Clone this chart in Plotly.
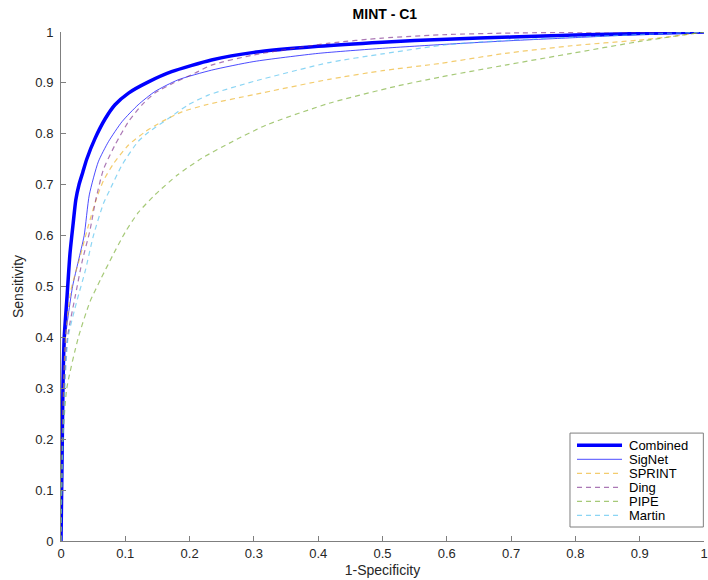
import plotly.graph_objects as go

# ROC curves (false positive rate = 1-Specificity, true positive rate = Sensitivity)
combined_fpr = [0, 0.001, 0.002, 0.003, 0.005, 0.009, 0.014, 0.019, 0.023, 0.028, 0.034, 0.040, 0.053,
                0.069, 0.084, 0.105, 0.136, 0.172, 0.234, 0.3, 0.4, 0.5, 0.6, 0.7, 0.8, 0.9, 1]
combined_tpr = [0, 0.1, 0.2, 0.3, 0.4, 0.473, 0.565, 0.625, 0.67, 0.70, 0.725, 0.75, 0.791,
                0.83, 0.857, 0.88, 0.902, 0.922, 0.945, 0.96, 0.972, 0.98, 0.986, 0.99, 0.994, 0.997, 1]

signet_fpr = [0, 0.001, 0.002, 0.003, 0.007, 0.018, 0.027, 0.036, 0.044, 0.058, 0.074, 0.095,
              0.120, 0.146, 0.182, 0.234, 0.3, 0.4, 0.5, 0.6, 0.7, 0.8, 0.9, 1]
signet_tpr = [0, 0.1, 0.2, 0.3, 0.4, 0.5, 0.55, 0.6, 0.68, 0.745, 0.785, 0.824,
              0.857, 0.883, 0.906, 0.925, 0.942, 0.958, 0.968, 0.976, 0.983, 0.989, 0.995, 1]

sprint_fpr = [0, 0.001, 0.002, 0.004, 0.007, 0.015, 0.030, 0.042, 0.055, 0.066, 0.082, 0.105,
              0.131, 0.157, 0.188, 0.229, 0.3, 0.417, 0.5, 0.588, 0.691, 0.794, 0.898, 0.949, 1]
sprint_tpr = [0, 0.1, 0.2, 0.3, 0.4, 0.49, 0.56, 0.617, 0.672, 0.708, 0.742, 0.778,
              0.804, 0.824, 0.843, 0.858, 0.877, 0.907, 0.924, 0.938, 0.958, 0.973, 0.984, 0.991, 1]

ding_fpr = [0, 0.001, 0.002, 0.005, 0.010, 0.022, 0.033, 0.045, 0.054, 0.066, 0.084, 0.105,
            0.126, 0.146, 0.172, 0.208, 0.234, 0.3, 0.417, 0.5, 0.6, 0.7, 0.85, 1]
ding_tpr = [0, 0.1, 0.2, 0.3, 0.4, 0.48, 0.55, 0.61, 0.67, 0.73, 0.778, 0.824,
            0.857, 0.88, 0.898, 0.919, 0.935, 0.955, 0.978, 0.988, 0.995, 0.998, 1, 1]

pipe_fpr = [0, 0.001, 0.003, 0.009, 0.027, 0.045, 0.062, 0.080, 0.100, 0.120, 0.146, 0.182, 0.219,
            0.267, 0.319, 0.417, 0.52, 0.588, 0.691, 0.794, 0.898, 1]
pipe_tpr = [0, 0.1, 0.2, 0.3, 0.4, 0.47, 0.515, 0.56, 0.607, 0.645, 0.68, 0.72, 0.752,
            0.785, 0.817, 0.860, 0.893, 0.911, 0.935, 0.958, 0.981, 1]

martin_fpr = [0, 0.001, 0.003, 0.006, 0.011, 0.025, 0.038, 0.050, 0.066, 0.076, 0.095, 0.120,
              0.136, 0.167, 0.198, 0.229, 0.3, 0.417, 0.5, 0.6, 0.7, 0.8, 0.9, 1]
martin_tpr = [0, 0.1, 0.2, 0.3, 0.4, 0.473, 0.532, 0.598, 0.663, 0.69, 0.739, 0.785,
              0.803, 0.830, 0.857, 0.876, 0.903, 0.94, 0.957, 0.975, 0.984, 0.99, 0.995, 1]

tick_vals = [0, 0.1, 0.2, 0.3, 0.4, 0.5, 0.6, 0.7, 0.8, 0.9, 1]
tick_text = ["0", "0.1", "0.2", "0.3", "0.4", "0.5", "0.6", "0.7", "0.8", "0.9", "1"]

FONT = "Liberation Sans, Arial, sans-serif"
DASH = "5px,4px"
series = [
    ("Combined", combined_fpr, combined_tpr, dict(color="#0000FF", width=3.5, dash="solid")),
    ("SigNet", signet_fpr, signet_tpr, dict(color="rgba(0,0,255,0.7)", width=1, dash="solid")),
    ("SPRINT", sprint_fpr, sprint_tpr, dict(color="rgba(237,177,32,0.65)", width=1.2, dash=DASH)),
    ("Ding", ding_fpr, ding_tpr, dict(color="rgba(126,47,142,0.65)", width=1.2, dash=DASH)),
    ("PIPE", pipe_fpr, pipe_tpr, dict(color="rgba(119,172,48,0.65)", width=1.2, dash=DASH)),
    ("Martin", martin_fpr, martin_tpr, dict(color="rgba(77,190,238,0.65)", width=1.2, dash=DASH)),
]

fig = go.Figure()
for name, xs, ys, line in series:
    fig.add_trace(go.Scatter(x=xs, y=ys, mode="lines", name=name, line=line,
                             line_shape="spline", line_smoothing=0.6, showlegend=False))

# Compact boxed legend in the lower-right corner of the axes (paper coordinates)
box_x0, box_x1 = 0.7916, 0.999
box_y0, box_y1 = 0.0275, 0.212
row_top, row_step = 0.188, 0.0275
shapes = [dict(type="rect", xref="paper", yref="paper", x0=box_x0, x1=box_x1, y0=box_y0, y1=box_y1,
               line=dict(color="#7f7f7f", width=1), fillcolor="white", layer="above")]
annotations = []
for i, (name, _, _, line) in enumerate(series):
    yy = row_top - i * row_step
    shapes.append(dict(type="line", xref="paper", yref="paper", x0=0.8025, x1=0.8725, y0=yy, y1=yy,
                       line=dict(color=line["color"], width=line["width"], dash=line["dash"]),
                       layer="above"))
    annotations.append(dict(text=name, xref="paper", yref="paper", x=0.880, y=yy,
                            xanchor="left", yanchor="middle", showarrow=False,
                            font=dict(family=FONT, size=13, color="#000000")))

axis_common = dict(
    range=[0, 1], tickvals=tick_vals, ticktext=tick_text, automargin=False,
    showgrid=False, zeroline=False, showline=True, linecolor="#7f7f7f", linewidth=1,
    ticks="inside", ticklen=5, tickcolor="#7f7f7f", ticklabeloverflow="allow",
    tickfont=dict(family=FONT, size=13, color="#262626"),
)

fig.update_layout(
    width=708, height=580,
    margin=dict(l=61, r=4, t=32, b=39),
    paper_bgcolor="white", plot_bgcolor="white",
    title=dict(text="<b>MINT - C1</b>", x=0.5436, xanchor="center", y=0.985, yanchor="top",
               font=dict(family=FONT, size=14, color="#000000")),
    xaxis=dict(axis_common, title=dict(text="1-Specificity", standoff=5,
                                       font=dict(family=FONT, size=14, color="#262626"))),
    yaxis=dict(axis_common, ticklabelstandoff=4,
               title=dict(text="Sensitivity", standoff=8,
                          font=dict(family=FONT, size=14, color="#262626"))),
    shapes=shapes,
    annotations=annotations,
    showlegend=False,
)

fig.write_html("out.html")
